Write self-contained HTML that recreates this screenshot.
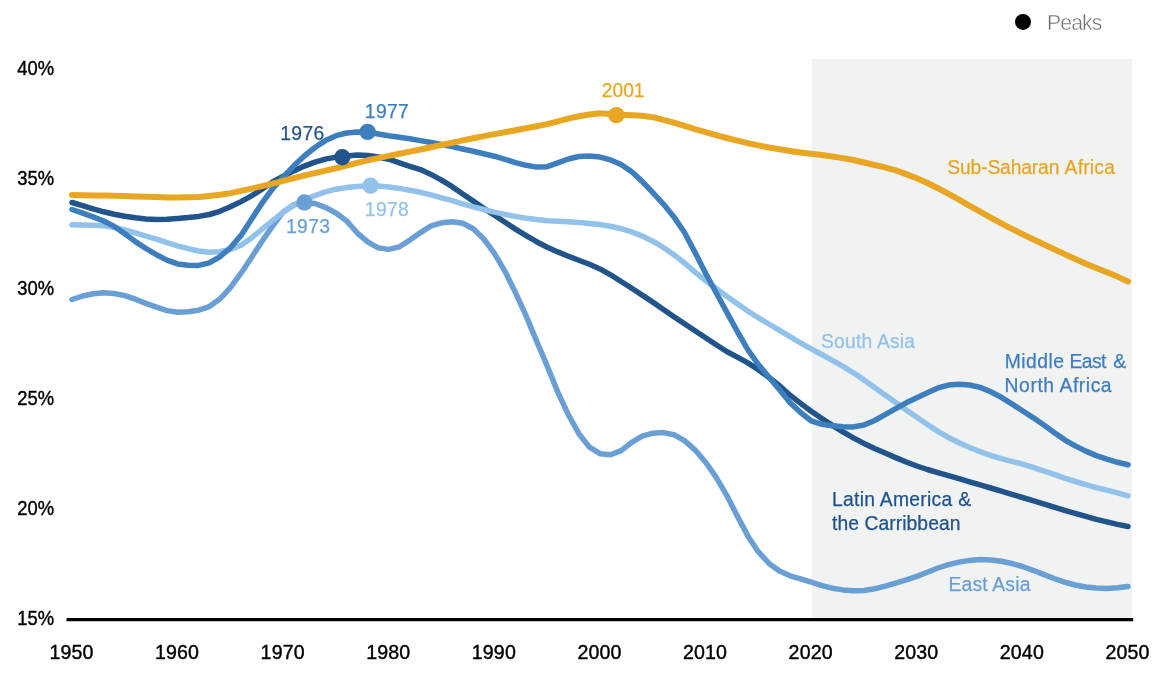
<!DOCTYPE html>
<html lang="en"><head><meta charset="utf-8"><title>Peaks</title>
<style>
html,body{margin:0;padding:0;background:#fff;}
body{width:1156px;height:678px;overflow:hidden;}
svg{display:block;}
text{font-family:"Liberation Sans", Arial, sans-serif;}
.ax{font-size:19.6px;fill:#000;stroke:#000;stroke-width:0.4px;}
.lb{font-size:19.3px;}
</style></head><body>
<svg width="1156" height="678" viewBox="0 0 1156 678">
<rect x="0" y="0" width="1156" height="678" fill="#ffffff"/>
<rect x="812" y="59" width="320" height="559.5" fill="#F1F2F2"/>

<text class="ax" x="17.2" y="74.5" textLength="36.8" lengthAdjust="spacingAndGlyphs">40%</text>
<text class="ax" x="17.2" y="184.5" textLength="36.8" lengthAdjust="spacingAndGlyphs">35%</text>
<text class="ax" x="17.2" y="294.5" textLength="36.8" lengthAdjust="spacingAndGlyphs">30%</text>
<text class="ax" x="17.2" y="404.5" textLength="36.8" lengthAdjust="spacingAndGlyphs">25%</text>
<text class="ax" x="17.2" y="514.5" textLength="36.8" lengthAdjust="spacingAndGlyphs">20%</text>
<text class="ax" x="17.2" y="624.5" textLength="36.8" lengthAdjust="spacingAndGlyphs">15%</text>
<text class="ax" x="49.4" y="658.7" textLength="44" lengthAdjust="spacing">1950</text>
<text class="ax" x="155.0" y="658.7" textLength="44" lengthAdjust="spacing">1960</text>
<text class="ax" x="260.6" y="658.7" textLength="44" lengthAdjust="spacing">1970</text>
<text class="ax" x="366.2" y="658.7" textLength="44" lengthAdjust="spacing">1980</text>
<text class="ax" x="471.8" y="658.7" textLength="44" lengthAdjust="spacing">1990</text>
<text class="ax" x="577.4" y="658.7" textLength="44" lengthAdjust="spacing">2000</text>
<text class="ax" x="683.0" y="658.7" textLength="44" lengthAdjust="spacing">2010</text>
<text class="ax" x="788.6" y="658.7" textLength="44" lengthAdjust="spacing">2020</text>
<text class="ax" x="894.2" y="658.7" textLength="44" lengthAdjust="spacing">2030</text>
<text class="ax" x="999.8" y="658.7" textLength="44" lengthAdjust="spacing">2040</text>
<text class="ax" x="1105.4" y="658.7" textLength="44" lengthAdjust="spacing">2050</text>
<line x1="66.5" y1="619.7" x2="1133.2" y2="619.7" stroke="#000" stroke-width="3.2"/>
<path d="M72.0,299.5 L82.6,296.0 L93.1,293.7 L103.7,292.7 L114.2,293.5 L124.8,295.6 L135.4,299.2 L145.9,303.4 L156.5,307.2 L167.0,310.6 L177.6,312.3 L188.2,311.8 L198.7,310.2 L209.3,306.6 L219.8,299.1 L230.4,287.7 L241.0,273.2 L251.5,257.4 L262.1,241.2 L272.6,226.2 L283.2,211.9 L293.8,204.7 L304.3,202.5 L314.9,203.5 L325.4,207.4 L336.0,213.0 L346.6,220.9 L357.1,232.8 L367.7,241.9 L378.2,247.9 L388.8,249.4 L399.4,246.8 L409.9,240.1 L420.5,232.6 L431.0,225.9 L441.6,222.8 L452.2,221.8 L462.7,223.3 L473.3,228.8 L483.8,239.0 L494.4,253.4 L505.0,271.3 L515.5,292.7 L526.1,315.9 L536.6,341.1 L547.2,366.0 L557.8,392.1 L568.3,414.7 L578.9,433.7 L589.4,447.1 L600.0,453.7 L610.6,454.8 L621.1,450.6 L631.7,442.3 L642.2,436.1 L652.8,433.2 L663.4,432.6 L673.9,434.7 L684.5,440.7 L695.0,449.8 L705.6,462.2 L716.2,477.4 L726.7,495.3 L737.3,516.0 L747.8,535.9 L758.4,551.9 L769.0,563.4 L779.5,571.0 L790.1,575.8 L800.6,578.9 L811.2,582.2 L821.8,585.6 L832.3,588.2 L842.9,589.9 L853.4,590.8 L864.0,590.5 L874.6,588.8 L885.1,586.1 L895.7,583.1 L906.2,579.9 L916.8,576.4 L927.4,572.2 L937.9,568.0 L948.5,564.6 L959.0,562.1 L969.6,560.4 L980.2,559.5 L990.7,559.9 L1001.3,561.3 L1011.8,563.5 L1022.4,566.5 L1033.0,570.3 L1043.5,574.4 L1054.1,578.5 L1064.6,582.2 L1075.2,585.0 L1085.8,587.0 L1096.3,588.1 L1106.9,588.5 L1117.4,587.8 L1128.0,586.5" fill="none" stroke="#6A9FD6" stroke-width="5.5" stroke-linecap="round" stroke-linejoin="round"/>
<path d="M72.0,202.5 L82.6,205.7 L93.1,208.9 L103.7,211.8 L114.2,214.2 L124.8,216.2 L135.4,217.7 L145.9,218.9 L156.5,219.4 L167.0,219.2 L177.6,218.5 L188.2,217.6 L198.7,216.4 L209.3,214.5 L219.8,211.3 L230.4,206.8 L241.0,201.6 L251.5,195.9 L262.1,189.1 L272.6,181.9 L283.2,176.2 L293.8,170.9 L304.3,166.1 L314.9,162.1 L325.4,159.1 L336.0,157.1 L346.6,155.9 L357.1,155.1 L367.7,155.6 L378.2,157.0 L388.8,159.2 L399.4,162.8 L409.9,166.3 L420.5,169.6 L431.0,174.4 L441.6,180.1 L452.2,186.7 L462.7,194.0 L473.3,201.1 L483.8,208.2 L494.4,215.1 L505.0,222.2 L515.5,229.1 L526.1,235.6 L536.6,241.7 L547.2,247.2 L557.8,251.9 L568.3,256.2 L578.9,260.3 L589.4,264.3 L600.0,268.9 L610.6,274.8 L621.1,281.5 L631.7,288.2 L642.2,295.1 L652.8,302.1 L663.4,309.4 L673.9,316.7 L684.5,323.8 L695.0,330.7 L705.6,337.7 L716.2,344.8 L726.7,351.5 L737.3,357.2 L747.8,362.9 L758.4,369.8 L769.0,377.5 L779.5,385.7 L790.1,395.2 L800.6,403.4 L811.2,411.2 L821.8,418.5 L832.3,425.4 L842.9,431.8 L853.4,437.9 L864.0,443.4 L874.6,448.5 L885.1,453.1 L895.7,457.6 L906.2,462.0 L916.8,466.0 L927.4,469.5 L937.9,472.6 L948.5,475.7 L959.0,478.7 L969.6,481.8 L980.2,484.9 L990.7,488.0 L1001.3,491.2 L1011.8,494.3 L1022.4,497.5 L1033.0,500.7 L1043.5,503.9 L1054.1,507.2 L1064.6,510.4 L1075.2,513.4 L1085.8,516.4 L1096.3,519.3 L1106.9,521.9 L1117.4,524.4 L1128.0,526.5" fill="none" stroke="#20548A" stroke-width="5.5" stroke-linecap="round" stroke-linejoin="round"/>
<path d="M72.0,224.8 L82.6,225.0 L93.1,225.2 L103.7,225.8 L114.2,227.4 L124.8,229.9 L135.4,232.9 L145.9,236.1 L156.5,239.2 L167.0,242.6 L177.6,245.8 L188.2,248.6 L198.7,251.0 L209.3,252.3 L219.8,251.7 L230.4,249.5 L241.0,245.2 L251.5,237.9 L262.1,229.1 L272.6,220.7 L283.2,212.2 L293.8,205.1 L304.3,199.9 L314.9,195.6 L325.4,191.9 L336.0,189.2 L346.6,187.6 L357.1,186.4 L367.7,185.8 L378.2,186.0 L388.8,187.0 L399.4,188.4 L409.9,190.2 L420.5,192.3 L431.0,194.9 L441.6,197.8 L452.2,200.7 L462.7,203.8 L473.3,206.8 L483.8,209.5 L494.4,212.1 L505.0,214.4 L515.5,216.4 L526.1,218.2 L536.6,219.6 L547.2,220.7 L557.8,221.3 L568.3,221.8 L578.9,222.6 L589.4,223.4 L600.0,224.6 L610.6,226.3 L621.1,228.7 L631.7,231.9 L642.2,236.1 L652.8,241.2 L663.4,247.5 L673.9,254.7 L684.5,263.0 L695.0,272.1 L705.6,280.5 L716.2,288.5 L726.7,296.2 L737.3,303.8 L747.8,311.1 L758.4,317.8 L769.0,324.0 L779.5,330.3 L790.1,336.7 L800.6,343.0 L811.2,348.8 L821.8,354.5 L832.3,360.4 L842.9,366.4 L853.4,372.8 L864.0,379.9 L874.6,387.4 L885.1,395.0 L895.7,402.5 L906.2,410.0 L916.8,417.3 L927.4,424.5 L937.9,431.4 L948.5,437.5 L959.0,442.7 L969.6,447.5 L980.2,451.7 L990.7,455.5 L1001.3,458.6 L1011.8,461.3 L1022.4,464.2 L1033.0,467.4 L1043.5,470.8 L1054.1,474.4 L1064.6,478.2 L1075.2,481.5 L1085.8,484.7 L1096.3,487.6 L1106.9,490.2 L1117.4,492.9 L1128.0,495.8" fill="none" stroke="#92C2EA" stroke-width="5.5" stroke-linecap="round" stroke-linejoin="round"/>
<path d="M72.0,209.5 L82.6,213.2 L93.1,216.9 L103.7,221.0 L114.2,226.4 L124.8,233.7 L135.4,241.6 L145.9,248.5 L156.5,254.7 L167.0,260.1 L177.6,263.9 L188.2,265.3 L198.7,265.4 L209.3,262.9 L219.8,256.8 L230.4,247.8 L241.0,235.4 L251.5,219.3 L262.1,203.0 L272.6,188.7 L283.2,177.2 L293.8,165.8 L304.3,156.0 L314.9,147.5 L325.4,140.6 L336.0,135.7 L346.6,133.0 L357.1,132.0 L367.7,132.2 L378.2,134.0 L388.8,135.8 L399.4,137.3 L409.9,138.8 L420.5,140.6 L431.0,142.5 L441.6,144.5 L452.2,146.6 L462.7,149.0 L473.3,151.3 L483.8,153.7 L494.4,156.2 L505.0,159.3 L515.5,162.6 L526.1,165.3 L536.6,167.1 L547.2,166.7 L557.8,162.9 L568.3,159.0 L578.9,156.5 L589.4,156.1 L600.0,157.1 L610.6,159.9 L621.1,164.6 L631.7,171.8 L642.2,181.4 L652.8,192.6 L663.4,204.1 L673.9,216.9 L684.5,232.5 L695.0,252.4 L705.6,273.3 L716.2,292.7 L726.7,312.1 L737.3,331.4 L747.8,349.6 L758.4,364.6 L769.0,377.3 L779.5,389.7 L790.1,402.7 L800.6,412.5 L811.2,420.9 L821.8,424.3 L832.3,425.8 L842.9,426.7 L853.4,426.9 L864.0,425.0 L874.6,420.5 L885.1,414.7 L895.7,408.6 L906.2,402.8 L916.8,397.7 L927.4,392.7 L937.9,387.9 L948.5,385.1 L959.0,384.3 L969.6,385.0 L980.2,387.4 L990.7,391.7 L1001.3,397.3 L1011.8,403.9 L1022.4,410.7 L1033.0,417.6 L1043.5,424.8 L1054.1,432.4 L1064.6,439.8 L1075.2,445.9 L1085.8,451.1 L1096.3,455.6 L1106.9,459.1 L1117.4,462.3 L1128.0,464.8" fill="none" stroke="#3D7EBF" stroke-width="5.5" stroke-linecap="round" stroke-linejoin="round"/>
<path d="M72.0,195.0 L82.6,195.2 L93.1,195.4 L103.7,195.6 L114.2,195.8 L124.8,196.1 L135.4,196.4 L145.9,196.8 L156.5,197.1 L167.0,197.4 L177.6,197.5 L188.2,197.3 L198.7,196.9 L209.3,196.0 L219.8,194.8 L230.4,193.1 L241.0,190.9 L251.5,188.6 L262.1,186.1 L272.6,183.6 L283.2,180.8 L293.8,178.1 L304.3,175.5 L314.9,173.1 L325.4,170.7 L336.0,168.3 L346.6,165.7 L357.1,162.9 L367.7,160.3 L378.2,158.1 L388.8,155.9 L399.4,153.7 L409.9,151.6 L420.5,149.5 L431.0,147.2 L441.6,144.9 L452.2,142.7 L462.7,140.4 L473.3,138.2 L483.8,136.1 L494.4,134.1 L505.0,132.2 L515.5,130.2 L526.1,128.2 L536.6,126.2 L547.2,124.1 L557.8,121.4 L568.3,118.6 L578.9,116.3 L589.4,114.5 L600.0,113.2 L610.6,114.0 L621.1,114.8 L631.7,115.2 L642.2,115.8 L652.8,117.2 L663.4,119.8 L673.9,122.7 L684.5,125.9 L695.0,129.2 L705.6,132.2 L716.2,135.2 L726.7,138.0 L737.3,140.7 L747.8,143.2 L758.4,145.4 L769.0,147.5 L779.5,149.3 L790.1,151.0 L800.6,152.5 L811.2,153.8 L821.8,155.0 L832.3,156.5 L842.9,158.1 L853.4,160.0 L864.0,162.5 L874.6,165.0 L885.1,167.4 L895.7,170.4 L906.2,174.1 L916.8,178.3 L927.4,183.0 L937.9,188.2 L948.5,193.8 L959.0,199.6 L969.6,205.8 L980.2,211.7 L990.7,217.6 L1001.3,223.4 L1011.8,228.8 L1022.4,234.1 L1033.0,239.3 L1043.5,244.3 L1054.1,249.2 L1064.6,254.1 L1075.2,259.0 L1085.8,263.7 L1096.3,268.0 L1106.9,272.2 L1117.4,276.6 L1128.0,281.5" fill="none" stroke="#E8A623" stroke-width="6" stroke-linecap="round" stroke-linejoin="round"/>
<circle cx="304.4" cy="202.5" r="8.2" fill="#6A9FD6"/>
<circle cx="342.3" cy="157.2" r="8.2" fill="#20548A"/>
<circle cx="367.6" cy="131.9" r="8.2" fill="#3D7EBF"/>
<circle cx="370.6" cy="185.8" r="8.2" fill="#92C2EA"/>
<circle cx="616.4" cy="115.1" r="8.2" fill="#E8A623"/>
<text class="lb" x="280.2" y="140" textLength="44" lengthAdjust="spacing" fill="#20548A" stroke="#20548A" stroke-width="0.25" >1976</text>
<text class="lb" x="364.8" y="117.6" textLength="44" lengthAdjust="spacing" fill="#3D7EBF" stroke="#3D7EBF" stroke-width="0.25" >1977</text>
<text class="lb" x="364.8" y="216.1" textLength="44" lengthAdjust="spacing" fill="#92C2EA" stroke="#92C2EA" stroke-width="0.25" >1978</text>
<text class="lb" x="286" y="232.6" textLength="44" lengthAdjust="spacing" fill="#6A9FD6" stroke="#6A9FD6" stroke-width="0.25" >1973</text>
<text class="lb" x="601.8" y="97.3" textLength="42.8" lengthAdjust="spacing" fill="#E8A623" stroke="#E8A623" stroke-width="0.25" >2001</text>
<text class="lb" y="174.2" fill="#E8A623" stroke="#E8A623" stroke-width="0.25"><tspan x="947.3" textLength="112.1" lengthAdjust="spacing">Sub-Saharan</tspan> <tspan x="1064.6" textLength="50.3" lengthAdjust="spacing">Africa</tspan></text>
<text class="lb" x="821" y="347.6" textLength="94" lengthAdjust="spacing" fill="#92C2EA" stroke="#92C2EA" stroke-width="0.25" >South Asia</text>
<text class="lb" y="367.6" fill="#3D7EBF" stroke="#3D7EBF" stroke-width="0.25"><tspan x="1004.8" textLength="59.1" lengthAdjust="spacing">Middle</tspan> <tspan x="1069.6" textLength="36.7" lengthAdjust="spacing">East</tspan> <tspan x="1113.2">&amp;</tspan></text>
<text class="lb" x="1004.6" y="392" textLength="107" lengthAdjust="spacing" fill="#3D7EBF" stroke="#3D7EBF" stroke-width="0.25" >North Africa</text>
<text class="lb" x="832" y="505.8" textLength="139" lengthAdjust="spacing" fill="#20548A" stroke="#20548A" stroke-width="0.25" >Latin America &amp;</text>
<text class="lb" x="832" y="530.2" textLength="128.5" lengthAdjust="spacing" fill="#20548A" stroke="#20548A" stroke-width="0.25" >the Carribbean</text>
<text class="lb" x="948.4" y="591.1" textLength="82" lengthAdjust="spacing" fill="#6A9FD6" stroke="#6A9FD6" stroke-width="0.25" >East Asia</text>
<circle cx="1023" cy="21.9" r="8" fill="#000"/>
<text x="1047.1" y="30" font-size="21.2" textLength="55.2" lengthAdjust="spacing" fill="#6D6E71" stroke="#fff" stroke-width="0.45">Peaks</text>
</svg></body></html>
